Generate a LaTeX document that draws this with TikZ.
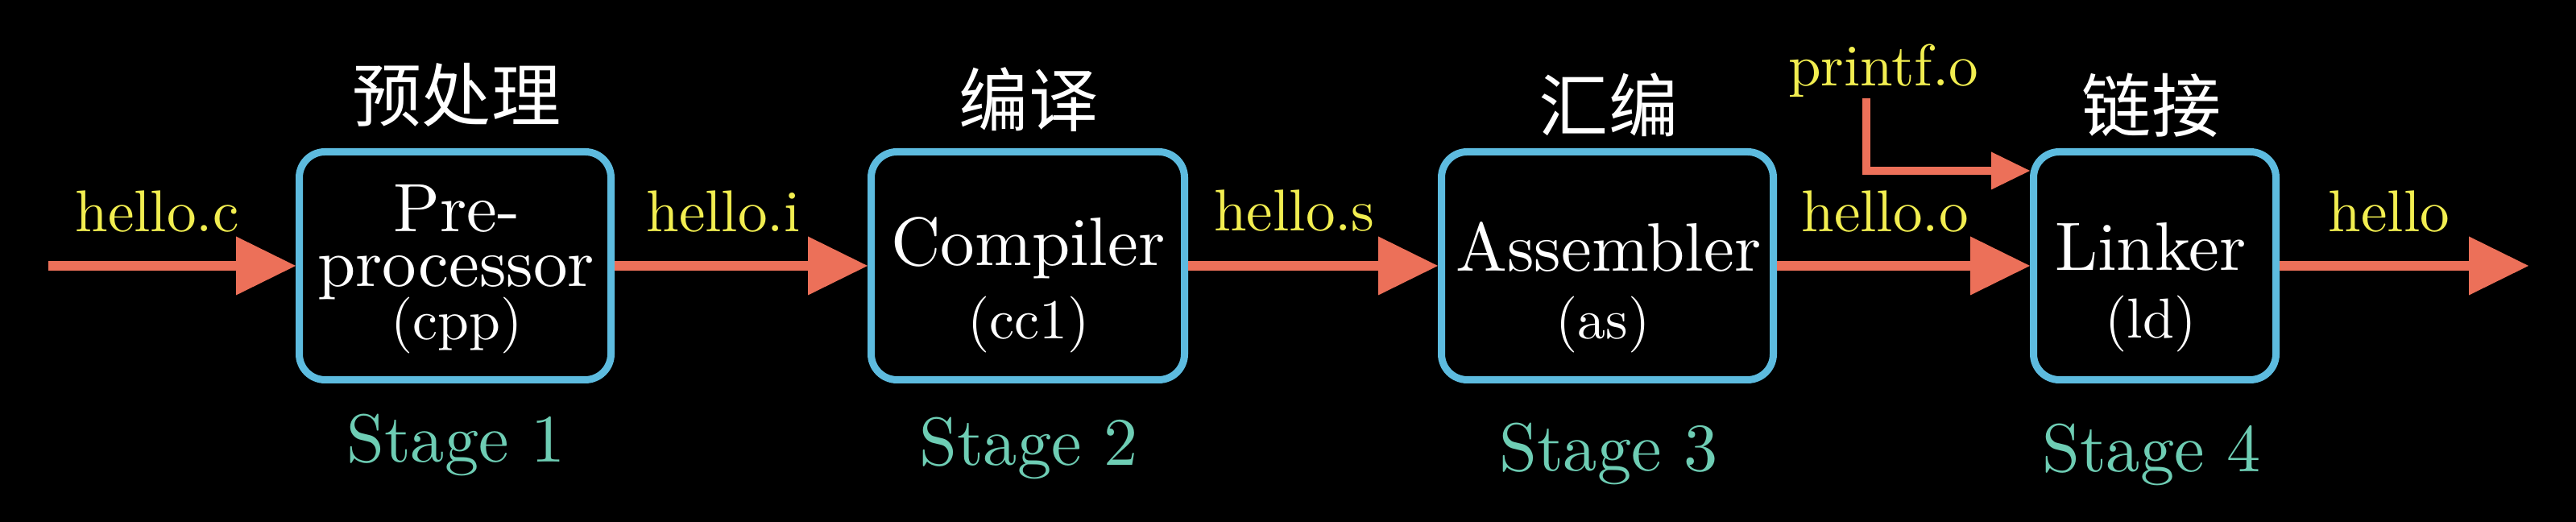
\documentclass[tikz,border=0pt]{standalone}
\usepackage{fontspec}
\setmainfont{lmroman10-regular.otf}
\newfontfamily\zhfont{Noto Sans CJK SC}
\usetikzlibrary{arrows.meta}

\definecolor{boxblue}{HTML}{5DBBDF}
\definecolor{arrowred}{HTML}{EC7059}
\definecolor{fileyellow}{HTML}{F2EE50}
\definecolor{stageteal}{HTML}{6ECDB4}

\tikzset{
  stagebox/.style={draw=boxblue,line width=0.09cm,rounded corners=0.32cm,minimum height=2.83cm,inner sep=0pt},
  boxtext/.style={text=white,font=\fontsize{24.2}{29}\selectfont,anchor=base,inner sep=0pt},
  subtext/.style={text=white,font=\fontsize{19.9}{24}\selectfont,anchor=base,inner sep=0pt},
  fname/.style={text=fileyellow,font=\fontsize{20.8}{25}\selectfont,anchor=base,inner sep=0pt},
  zh/.style={text=white,font=\zhfont\fontsize{24.5}{29}\selectfont,inner sep=0pt},
  stagename/.style={text=stageteal,font=\fontsize{24}{29}\selectfont,anchor=base,inner sep=0pt},
  flow/.style={draw=arrowred,line width=0.125cm,-{Triangle[length=0.74cm,width=0.73cm,line width=0pt]}},
  feed/.style={draw=arrowred,line width=0.1cm,-{Triangle[length=0.48cm,width=0.47cm,line width=0pt]}}
}

\begin{document}
\begin{tikzpicture}

\fill[black] (0,0) rectangle (31.98,6.48);
\useasboundingbox (0,0) rectangle (31.98,6.48);

% the four stages
\node[stagebox,minimum width=3.87cm] (pre) at (5.65,3.18) {};
\node[stagebox,minimum width=3.89cm] (comp) at (12.76,3.18) {};
\node[stagebox,minimum width=4.12cm] (asm) at (19.955,3.18) {};
\node[stagebox,minimum width=3.01cm] (link) at (26.75,3.18) {};

\node[boxtext] (preA) at (5.67,3.60) {Pre-};
\node[boxtext] (preB) at (5.66,2.92) {processor};
\node[subtext] (preC) at (5.67,2.26) {(cpp)};
\node[boxtext] (compA) at (12.765,3.18) {Compiler};
\node[subtext] (compB) at (12.77,2.27) {(cc1)};
\node[boxtext] (asmA) at (19.97,3.11) {Assembler};
\node[subtext] (asmB) at (19.90,2.27) {(as)};
\node[boxtext] (linkA) at (26.70,3.12) {Linker};
\node[subtext] (linkB) at (26.70,2.28) {(ld)};

% chinese titles
\node[zh] (preZh) at (5.67,5.30) {预处理};
\node[zh] (compZh) at (12.77,5.24) {编译};
\node[zh] (asmZh) at (19.97,5.18) {汇编};
\node[zh] (linkZh) at (26.71,5.17) {链接};

\foreach \n/\x/\y in {1/5.66/0.74,2/12.77/0.70,3/19.97/0.63,4/26.71/0.62}
	\node[stagename] (stage\n) at (\x,\y) {Stage \n};

% files
\node[fname] (helloc) at (1.95,3.60) {hello.c};
\node[fname] (helloi) at (8.98,3.60) {hello.i};
\node[fname] (hellos) at (16.07,3.61) {hello.s};
\node[fname] (helloo) at (23.40,3.60) {hello.o};
\node[fname] (hello) at (29.66,3.60) {hello};
\node[fname] (printf) at (23.38,5.41) {printf.o};

\coordinate (src) at (0.60,3.18);
\coordinate (out) at (31.39,3.18);
\coordinate (kink) at (23.17,5.36);

\draw[flow] (src) -- (pre.west);
\draw[flow] (pre.east) -- (comp.west);
\draw[flow] (comp.east) -- (asm.west);
\draw[flow] (asm.east) -- (link.west);
\draw[flow] (link.east) -- (out);
\draw[feed] (printf.south -| kink) -- (kink |- 0,4.36) -- (link.west |- 0,4.36);

\end{tikzpicture}
\end{document}
